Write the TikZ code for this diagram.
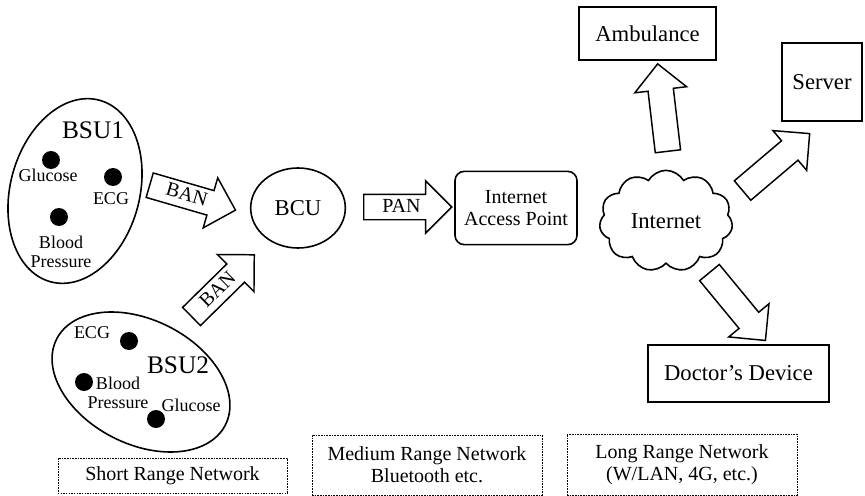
\documentclass[tikz,border=0pt]{standalone}
\usepackage{fontspec}
\setmainfont{Liberation Serif}
\usetikzlibrary{shapes.geometric}
\usetikzlibrary{shapes.arrows}
\usetikzlibrary{shapes.symbols}

\begin{document}
\begin{tikzpicture}[
        x = 0.75pt, y = -0.75pt,
        unitOval/.style = { ellipse, draw, line width = 1.2pt, inner sep = 0pt },
        sensorDot/.style = { circle, fill = black, minimum size = 13.5pt, inner sep = 0pt },
        sensorText/.style = { font = \fontsize{13.5}{14.5}\selectfont, inner sep = 0pt, align = center },
        unitText/.style = { font = \fontsize{19}{21}\selectfont, inner sep = 0pt },
        deviceBox/.style = { rectangle, draw, line width = 1.2pt, inner sep = 0pt, font = \fontsize{17}{19}\selectfont, align = center },
        rangeBox/.style = { rectangle, draw, line width = 0.5pt, dash pattern = on 1.2pt off 0.8pt, inner sep = 0pt, font = \fontsize{15}{16.5}\selectfont, align = center },
        blockArrow/.style = { single arrow, draw, line width = 1.1pt, fill = white, anchor = tail, font = \fontsize{15}{17}\selectfont, text height = 10.5pt, text depth = 3pt, inner ysep = 2.25pt, inner xsep = 3pt, single arrow head extend = 10pt, minimum height = 66pt },
    ]
    \useasboundingbox (0,0) rectangle (865,496);

    % short range: body sensor units
    \node[unitOval, minimum width = 97pt, minimum height = 141pt, rotate = -15] (BSUone) at (75,191) {};
    \node[unitText] (BSUoneLabel) at (93,130) {BSU1};
    \node[sensorDot] (BSUoneGlucoseDot) at (51,160) {};
    \node[sensorText] (BSUoneGlucose) at (48,175) {Glucose};
    \node[sensorDot] (BSUoneECGDot) at (113,177) {};
    \node[sensorText] (BSUoneECG) at (111,199) {ECG};
    \node[sensorDot] (BSUonePressureDot) at (59,217) {};
    \node[sensorText] (BSUonePressure) at (61,252) {Blood\\Pressure};

    \node[unitOval, minimum width = 142pt, minimum height = 93pt, rotate = -27] (BSUtwo) at (141,382) {};
    \node[unitText] (BSUtwoLabel) at (178,365) {BSU2};
    \node[sensorText] (BSUtwoECG) at (92,333) {ECG};
    \node[sensorDot] (BSUtwoECGDot) at (129,341) {};
    \node[sensorDot] (BSUtwoPressureDot) at (84,382) {};
    \node[sensorText] (BSUtwoPressure) at (118,393) {Blood\\Pressure};
    \node[sensorText] (BSUtwoGlucose) at (191,405) {Glucose};
    \node[sensorDot] (BSUtwoGlucoseDot) at (156,419) {};

    % medium range
    \node[unitOval, minimum width = 71pt, minimum height = 60pt, font = \fontsize{17}{19}\selectfont] (BCU) at (298,208) {BCU};
    \node[deviceBox, rounded corners = 7pt, minimum width = 91.5pt, minimum height = 55pt, font = \fontsize{15}{16.5}\selectfont] (accessPoint) at (516,208) {Internet\\Access Point};

    % long range
    \node[cloud, draw, line width = 1.2pt, cloud puffs = 11, cloud puff arc = 120, aspect = 1.3, minimum width = 100pt, minimum height = 76pt, inner sep = 0pt, font = \fontsize{17}{19}\selectfont] (internet) at (666,221) {Internet};
    \node[deviceBox, minimum width = 103pt, minimum height = 40pt] (ambulance) at (647.5,33.5) {Ambulance};
    \node[deviceBox, minimum width = 60pt, minimum height = 58.5pt] (server) at (822,82) {Server};
    \node[deviceBox, minimum width = 136pt, minimum height = 43pt] (doctor) at (738.5,373.5) {Doctor’s Device};

    % block arrows
    \node[blockArrow, rotate = -16.2, minimum height = 67pt] (BANone) at (149,185) {BAN};
    \node[blockArrow, rotate = 44.5] (BANtwo) at (191,317) {BAN};
    \node[blockArrow] (PAN) at (363,207) {PAN};
    \node[blockArrow, rotate = 96.7] (toAmbulance) at (668,152) {};
    \node[blockArrow, rotate = 40.3] (toServer) at (742,191) {};
    \node[blockArrow, rotate = -50.5] (toDoctor) at (709,272) {};

    % network ranges
    \node[rangeBox, minimum width = 172pt, minimum height = 26pt] (shortRange) at (172.5,475.5) {Short Range Network};
    \node[rangeBox, minimum width = 172.5pt, minimum height = 45pt] (mediumRange) at (427,465) {Medium Range Network\\Bluetooth etc.};
    \node[rangeBox, minimum width = 172.5pt, minimum height = 46pt] (longRange) at (682,464.5) {Long Range Network\\(W/LAN, 4G, etc.)};
\end{tikzpicture}
\end{document}
